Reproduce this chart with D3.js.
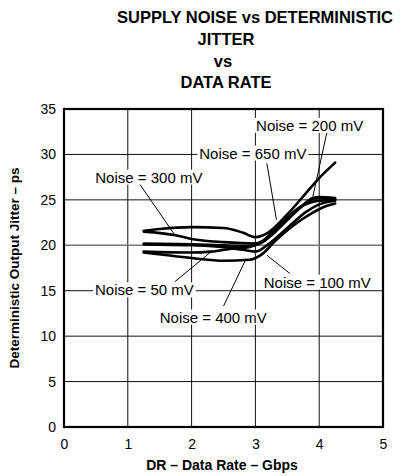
<!DOCTYPE html>
<html><head><meta charset="utf-8">
<script src="https://cdn.jsdelivr.net/npm/d3@7"></script>
<style>body{margin:0;background:#fff}svg{display:block}text{font-family:"Liberation Sans",Arial,sans-serif}</style>
</head><body><div id="chart"></div>
<script>
const titleLines = ["SUPPLY NOISE vs DETERMINISTIC", "JITTER", "vs", "DATA RATE"];
const xTicks = [0, 1, 2, 3, 4, 5];
const yTicks = [0, 5, 10, 15, 20, 25, 30, 35];

// data rate (Gbps) and jitter (ps) per supply noise curve
const x650 = [1.25, 1.5, 2.0, 2.5, 2.8, 3.0, 3.2, 3.5, 3.8, 4.0, 4.25];
const y650 = [21.6, 21.8, 22.0, 21.9, 21.4, 20.9, 21.4, 23.4, 25.8, 27.4, 29.1];
const x300 = [1.25, 1.75, 2.0, 2.5, 3.0, 3.25, 3.5, 3.8, 4.0, 4.25];
const y300 = [21.5, 21.1, 20.7, 20.35, 20.2, 21.1, 22.9, 24.7, 25.2, 25.1];
const x200 = [1.25, 2.0, 2.5, 2.9, 3.1, 3.4, 3.7, 3.9, 4.0, 4.25];
const y200 = [20.2, 20.1, 20.0, 19.9, 20.3, 22.1, 24.1, 25.2, 25.3, 25.2];
const x100 = [1.25, 2.0, 2.5, 2.8, 3.0, 3.2, 3.5, 3.8, 4.0, 4.25];
const y100 = [20.1, 20.0, 19.8, 19.5, 19.3, 20.1, 21.9, 23.7, 24.5, 24.9];
const x50 = [1.25, 2.0, 2.3, 2.6, 2.9, 3.1, 3.4, 3.7, 4.0, 4.25];
const y50 = [19.3, 19.2, 19.3, 19.6, 19.8, 20.4, 22.4, 24.2, 24.9, 25.0];
const x400 = [1.25, 2.0, 2.5, 2.9, 3.1, 3.3, 3.6, 3.9, 4.1, 4.25];
const y400 = [19.2, 18.6, 18.3, 18.4, 19.0, 20.4, 22.2, 23.6, 24.3, 24.6];

const seriesX = [x650, x300, x200, x100, x50, x400];
const seriesY = [y650, y300, y200, y100, y50, y400];

// annotation labels: text, label center (data units), pointer start and end (data units)
const labelText = ["Noise = 200 mV", "Noise = 650 mV", "Noise = 300 mV", "Noise = 50 mV", "Noise = 100 mV", "Noise = 400 mV"];
const labelPos = [[3.85, 33.2], [2.96, 30.15], [1.33, 27.5], [1.26, 15.1], [3.97, 15.95], [2.34, 12.1]];
const pointerFrom = [[4.12, 32.4], [3.18, 29.0], [1.18, 26.8], [1.74, 16.0], [3.54, 16.9], [2.5, 13.3]];
const pointerTo = [[3.9, 25.35], [3.33, 22.8], [1.74, 21.1], [2.29, 19.2], [3.18, 18.9], [2.84, 18.3]];

const W = 405, H = 476;
const svg = d3.select("#chart").append("svg").attr("width", W).attr("height", H);
const L = 64, R = 383, T = 109, B = 427;
const x = d3.scaleLinear().domain([0, 5]).range([L, R]);
const y = d3.scaleLinear().domain([0, 35]).range([B, T]);

// title
const tY = [23, 45, 67, 88];
const tX = [255, 226, 223, 226];
titleLines.forEach((t, i) => {
  svg.append("text").attr("x", tX[i]).attr("y", tY[i]).attr("text-anchor", "middle")
    .attr("font-size", 16.5).attr("font-weight", "bold").text(t);
});

// grid
const g = svg.append("g");
g.selectAll(".vg").data(xTicks.slice(1, -1)).join("line")
  .attr("x1", d => x(d)).attr("x2", d => x(d)).attr("y1", T).attr("y2", B)
  .attr("stroke", "#111").attr("stroke-width", 1);
g.selectAll(".hg").data(yTicks.slice(1, -1)).join("line")
  .attr("y1", d => y(d)).attr("y2", d => y(d)).attr("x1", L).attr("x2", R)
  .attr("stroke", d => d === 20 ? "#777" : "#111").attr("stroke-width", d => d === 20 ? 1.6 : 1);

// axes tick labels via d3 axes
const xAxis = svg.append("g").attr("transform", `translate(0,${B})`)
  .call(d3.axisBottom(x).tickValues(xTicks).tickFormat(d3.format("d")).tickSize(0).tickPadding(12));
xAxis.select(".domain").remove();
xAxis.selectAll("text").attr("font-size", 14).attr("fill", "#000").attr("font-family", "Liberation Sans, Arial, sans-serif");
const yAxis = svg.append("g").attr("transform", `translate(${L},0)`)
  .call(d3.axisLeft(y).tickValues(yTicks).tickFormat(d3.format("d")).tickSize(0).tickPadding(8));
yAxis.select(".domain").remove();
yAxis.selectAll("text").attr("font-size", 14).attr("fill", "#000").attr("font-family", "Liberation Sans, Arial, sans-serif");

// pointers
svg.selectAll(".ptr").data(pointerFrom).join("line")
  .attr("x1", d => x(d[0])).attr("y1", d => y(d[1]))
  .attr("x2", (d, i) => x(pointerTo[i][0])).attr("y2", (d, i) => y(pointerTo[i][1]))
  .attr("stroke", "#000").attr("stroke-width", 1);

// labels with white background
const lg = svg.append("g");
labelText.forEach((t, i) => {
  const tx = lg.append("text").attr("x", x(labelPos[i][0])).attr("y", y(labelPos[i][1]))
    .attr("text-anchor", "middle").attr("dominant-baseline", "central")
    .attr("font-size", 15).text(t);
  const bb = tx.node().getBBox();
  lg.insert("rect", () => tx.node()).attr("x", bb.x - 2).attr("y", bb.y + 1)
    .attr("width", bb.width + 4).attr("height", bb.height - 2).attr("fill", "#fff");
});

// curves
const line = d3.line().x(d => x(d[0])).y(d => y(d[1])).curve(d3.curveMonotoneX);
seriesX.forEach((xs, i) => {
  const pts = xs.map((v, j) => [v, seriesY[i][j]]);
  svg.append("path").attr("d", line(pts)).attr("fill", "none")
    .attr("stroke", "#000").attr("stroke-width", 2.6).attr("stroke-linecap", "round");
});

// frame
svg.append("rect").attr("x", L).attr("y", T).attr("width", R - L).attr("height", B - T)
  .attr("fill", "none").attr("stroke", "#000").attr("stroke-width", 2.2);

// axis titles
svg.append("text").attr("x", 222).attr("y", 470).attr("text-anchor", "middle")
  .attr("font-size", 14).attr("font-weight", "bold").text("DR – Data Rate – Gbps");
svg.append("text").attr("transform", `translate(19,${(T + B) / 2}) rotate(-90)`)
  .attr("text-anchor", "middle").attr("font-size", 13.5).attr("font-weight", "bold")
  .text("Deterministic Output Jitter – ps");
</script></body></html>
